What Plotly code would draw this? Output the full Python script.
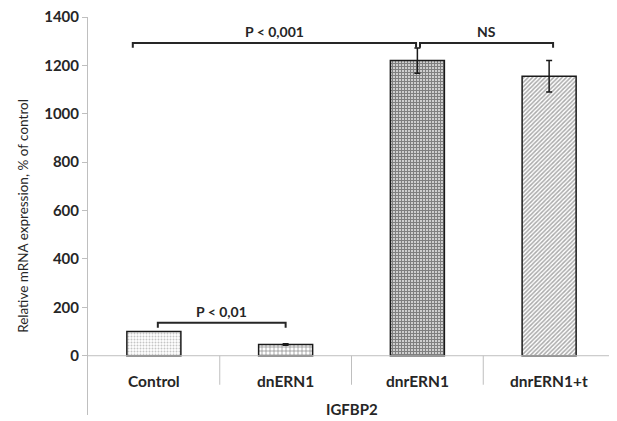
import plotly.graph_objects as go

categories = ["Control", "dnERN1", "dnrERN1", "dnrERN1+t"]
values = [100, 46, 1220, 1155]
errors = [0, 3, 52, 65]
group_label = "IGFBP2"
y_title = "Relative mRNA expression, % of control"
y_ticks = [0, 200, 400, 600, 800, 1000, 1200, 1400]
# brackets: (x_start, x_end, y, label)
brackets = [(-0.16, 1.99, 1293, "P < 0,001"), (2.02, 3.03, 1293, "NS"), (0.03, 1.0, 136, "P < 0,01")]

patterns = [
    dict(shape=".", fgcolor="#8c8c8c", bgcolor="white", size=3, solidity=0.35),
    dict(shape="+", fgcolor="black", bgcolor="white", size=4, solidity=0.3),
    dict(shape="+", fgcolor="black", bgcolor="white", size=3, solidity=0.7),
    dict(shape="/", fgcolor="#555555", bgcolor="white", size=3, solidity=0.5),
]

FONT = "Lato"
fig = go.Figure()
xs = list(range(len(categories)))
for i, c in enumerate(categories):
    fig.add_trace(go.Bar(
        x=[xs[i]], y=[values[i]],
        marker=dict(color="white", line=dict(color="#1a1a1a", width=1.5), pattern=patterns[i]),
        error_y=dict(type="data", array=[errors[i]], visible=errors[i] > 0, color="#1a1a1a", thickness=1.5, width=3),
        showlegend=False, width=0.41, name=c,
    ))

shapes = []
shapes.append(dict(type="line", xref="paper", yref="y", x0=0, x1=1, y0=0, y1=0, line=dict(color="#bfbfbf", width=1)))
for k in range(1, len(categories)):
    shapes.append(dict(type="line", xref="x", yref="y", x0=k - 0.5, x1=k - 0.5, y0=0, y1=-120, line=dict(color="#bfbfbf", width=1)))
annotations = []
for x0, x1, y, label in brackets:
    d = 20
    shapes.append(dict(type="path", xref="x", yref="y",
                       path=f"M {x0},{y - d} L {x0},{y} L {x1},{y} L {x1},{y - d}",
                       line=dict(color="#262626", width=2)))
    annotations.append(dict(x=(x0 + x1) / 2, y=y, xref="x", yref="y", text=f"<b>{label}</b>",
                            showarrow=False, yanchor="bottom", yshift=1,
                            font=dict(family=FONT, size=14, color="#262626")))
for i, c in enumerate(categories):
    annotations.append(dict(x=xs[i], y=-103, xref="x", yref="y", text=f"<b>{c}</b>", showarrow=False,
                            font=dict(family=FONT, size=15.5, color="#262626")))
annotations.append(dict(x=1.5, y=-219, xref="x", yref="y", text=f"<b>{group_label}</b>", showarrow=False,
                        font=dict(family=FONT, size=15, color="#262626")))

fig.update_layout(
    width=609, height=413,
    margin=dict(l=80, r=2, t=9, b=6, autoexpand=False),
    plot_bgcolor="white", paper_bgcolor="white",
    shapes=shapes, annotations=annotations,
    xaxis=dict(range=[-0.5, 3.5], visible=False),
    yaxis=dict(range=[-245, 1400], tickvals=y_ticks, ticktext=[f"<b>{t}</b>" for t in y_ticks],
               showline=True, linecolor="#bfbfbf", linewidth=1, ticks="outside", ticklen=5, tickcolor="#bfbfbf",
               showgrid=False, zeroline=False, automargin=False, ticklabeloverflow="allow",
               tickfont=dict(family=FONT, size=15, color="#262626"),
               title=dict(text=y_title, font=dict(family=FONT, size=13.5, color="#262626"), standoff=12)),
    bargap=0.59,
)
fig.write_html("out.html")
